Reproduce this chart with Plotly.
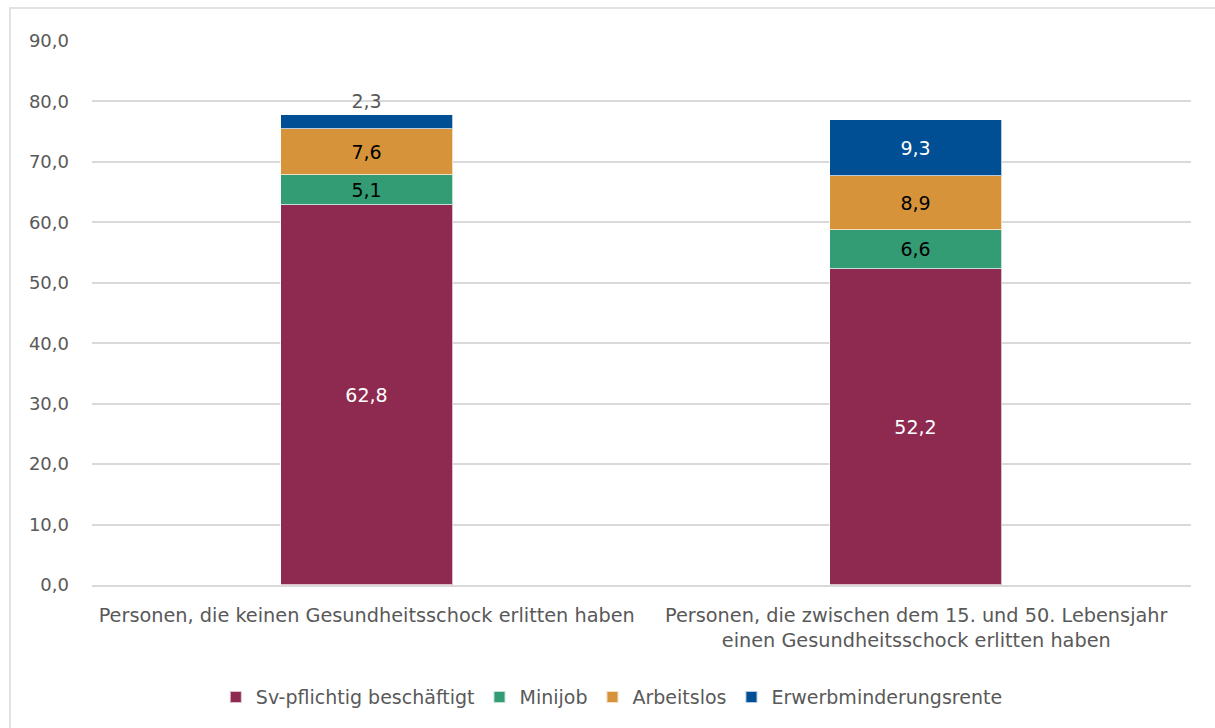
import plotly.graph_objects as go

categories = [
    "Personen, die keinen Gesundheitsschock erlitten haben",
    "Personen, die zwischen dem 15. und 50. Lebensjahr<br>einen Gesundheitsschock erlitten haben",
]
series_names = ["Sv-pflichtig beschäftigt", "Minijob", "Arbeitslos", "Erwerbminderungsrente"]
sv_pflichtig = [62.8, 52.2]
minijob = [5.1, 6.6]
arbeitslos = [7.6, 8.9]
erwerbminderung = [2.3, 9.3]
y_ticks = [0, 10, 20, 30, 40, 50, 60, 70, 80, 90]

colors = ["#8E2A4F", "#339C74", "#D69339", "#004E93"]
label_colors = ["white", "black", "black", "white"]
FONT = "DejaVu Sans"
GREY = "#595959"

fig = go.Figure()
all_values = [sv_pflichtig, minijob, arbeitslos, erwerbminderung]
for i, (name, vals) in enumerate(zip(series_names, all_values)):
    last = i == len(series_names) - 1
    fig.add_trace(go.Bar(
        name=name,
        x=categories,
        y=vals,
        marker=dict(color=colors[i], line=dict(color="rgba(255,255,255,0.7)", width=1)),
        width=0.313,
        texttemplate="%{y:.1f}",
        textposition=(["outside", "inside"] if last else "inside"),
        insidetextanchor="middle",
        textangle=0,
        insidetextfont=dict(family=FONT, size=19, color=label_colors[i]),
        outsidetextfont=dict(family=FONT, size=19, color=GREY),
        cliponaxis=False,
    ))

# outer chart frame
fig.add_shape(type="rect", xref="paper", yref="paper",
              x0=-0.0746, x1=1.05, y0=-0.4, y1=1.0607,
              line=dict(color="#D9D9D9", width=1.5), fillcolor="rgba(0,0,0,0)", layer="below")

fig.update_layout(
    barmode="stack",
    separators=",.",
    width=1215, height=728,
    margin=dict(l=92, r=24, t=41, b=143),
    paper_bgcolor="white",
    plot_bgcolor="white",
    font=dict(family=FONT, size=19, color=GREY),
    uniformtext=dict(mode=False),
    legend=dict(
        orientation="h", x=0.473, xanchor="center", y=-0.206, yanchor="middle",
        font=dict(family=FONT, size=19, color=GREY),
        itemwidth=30, traceorder="normal", itemsizing="constant",
    ),
    xaxis=dict(
        showline=True, linecolor="#D9D9D9", linewidth=1.5,
        tickfont=dict(family=FONT, size=19.3, color=GREY),
        ticks="", ticklabelstandoff=12,
    ),
    yaxis=dict(
        range=[0, 90], tickvals=y_ticks, tickformat=".1f",
        showgrid=True, gridcolor="#D9D9D9", gridwidth=1.5,
        zeroline=False, ticks="",
        tickfont=dict(family=FONT, size=18, color=GREY),
        ticklabelstandoff=22,
    ),
    bargap=0,
)

fig.write_html("out.html")
